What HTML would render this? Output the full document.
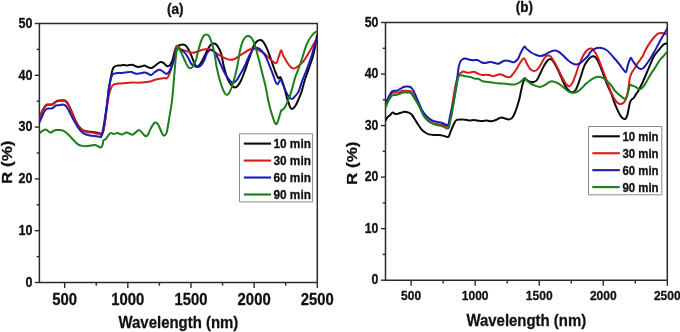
<!DOCTYPE html>
<html><head><meta charset="utf-8"><title>Reflectance spectra</title>
<style>html,body{margin:0;padding:0;background:#fff;width:680px;height:332px;overflow:hidden}
svg{display:block;font-family:"Liberation Sans",sans-serif;filter:blur(0.35px)}</style></head>
<body>
<svg width="680" height="332" viewBox="0 0 680 332">
<defs>
<clipPath id="ca"><rect x="39.4" y="23.5" width="277.9" height="259"/></clipPath>
<clipPath id="cb"><rect x="385.5" y="22.5" width="281.8" height="257.7"/></clipPath>
</defs>
<rect width="680" height="332" fill="#fff"/>
<g font-family="'Liberation Sans', sans-serif" font-weight="bold" fill="#111" stroke="#111" stroke-width="0.3" stroke-linejoin="round">
<rect x="39.40" y="23.50" width="277.90" height="259.00" fill="none" stroke="#2a2a2a" stroke-width="1.50"/>
<line x1="64.66" y1="282.50" x2="64.66" y2="288.00" stroke="#2a2a2a" stroke-width="1.40"/>
<text transform="translate(64.66 304.90) scale(0.885 1)" font-size="16.80" text-anchor="middle">500</text>
<line x1="96.24" y1="282.50" x2="96.24" y2="285.70" stroke="#2a2a2a" stroke-width="1.40"/>
<line x1="127.82" y1="282.50" x2="127.82" y2="288.00" stroke="#2a2a2a" stroke-width="1.40"/>
<text transform="translate(127.82 304.90) scale(0.885 1)" font-size="16.80" text-anchor="middle">1000</text>
<line x1="159.40" y1="282.50" x2="159.40" y2="285.70" stroke="#2a2a2a" stroke-width="1.40"/>
<line x1="190.98" y1="282.50" x2="190.98" y2="288.00" stroke="#2a2a2a" stroke-width="1.40"/>
<text transform="translate(190.98 304.90) scale(0.885 1)" font-size="16.80" text-anchor="middle">1500</text>
<line x1="222.56" y1="282.50" x2="222.56" y2="285.70" stroke="#2a2a2a" stroke-width="1.40"/>
<line x1="254.14" y1="282.50" x2="254.14" y2="288.00" stroke="#2a2a2a" stroke-width="1.40"/>
<text transform="translate(254.14 304.90) scale(0.885 1)" font-size="16.80" text-anchor="middle">2000</text>
<line x1="285.72" y1="282.50" x2="285.72" y2="285.70" stroke="#2a2a2a" stroke-width="1.40"/>
<line x1="317.30" y1="282.50" x2="317.30" y2="288.00" stroke="#2a2a2a" stroke-width="1.40"/>
<text transform="translate(317.30 304.90) scale(0.885 1)" font-size="16.80" text-anchor="middle">2500</text>
<line x1="34.80" y1="282.50" x2="39.40" y2="282.50" stroke="#2a2a2a" stroke-width="1.40"/>
<text transform="translate(32.50 286.80) scale(0.885 1)" font-size="14.20" text-anchor="end">0</text>
<line x1="36.60" y1="256.60" x2="39.40" y2="256.60" stroke="#2a2a2a" stroke-width="1.40"/>
<line x1="34.80" y1="230.70" x2="39.40" y2="230.70" stroke="#2a2a2a" stroke-width="1.40"/>
<text transform="translate(32.50 235.00) scale(0.885 1)" font-size="14.20" text-anchor="end">10</text>
<line x1="36.60" y1="204.80" x2="39.40" y2="204.80" stroke="#2a2a2a" stroke-width="1.40"/>
<line x1="34.80" y1="178.90" x2="39.40" y2="178.90" stroke="#2a2a2a" stroke-width="1.40"/>
<text transform="translate(32.50 183.20) scale(0.885 1)" font-size="14.20" text-anchor="end">20</text>
<line x1="36.60" y1="153.00" x2="39.40" y2="153.00" stroke="#2a2a2a" stroke-width="1.40"/>
<line x1="34.80" y1="127.10" x2="39.40" y2="127.10" stroke="#2a2a2a" stroke-width="1.40"/>
<text transform="translate(32.50 131.40) scale(0.885 1)" font-size="14.20" text-anchor="end">30</text>
<line x1="36.60" y1="101.20" x2="39.40" y2="101.20" stroke="#2a2a2a" stroke-width="1.40"/>
<line x1="34.80" y1="75.30" x2="39.40" y2="75.30" stroke="#2a2a2a" stroke-width="1.40"/>
<text transform="translate(32.50 79.60) scale(0.885 1)" font-size="14.20" text-anchor="end">40</text>
<line x1="36.60" y1="49.40" x2="39.40" y2="49.40" stroke="#2a2a2a" stroke-width="1.40"/>
<line x1="34.80" y1="23.50" x2="39.40" y2="23.50" stroke="#2a2a2a" stroke-width="1.40"/>
<text transform="translate(32.50 27.80) scale(0.885 1)" font-size="14.20" text-anchor="end">50</text>
<g clip-path="url(#ca)">
<path d="M39.40 118.00 C39.52 117.78 39.62 117.88 40.10 116.70 C40.58 115.52 41.48 112.63 42.30 110.90 C43.12 109.17 44.17 107.37 45.00 106.30 C45.83 105.23 46.38 104.80 47.30 104.50 C48.22 104.20 49.60 104.57 50.50 104.50 C51.40 104.43 51.95 104.47 52.70 104.10 C53.45 103.73 54.25 102.83 55.00 102.30 C55.75 101.77 56.38 101.20 57.20 100.90 C58.02 100.60 59.02 100.62 59.90 100.50 C60.78 100.38 61.68 100.20 62.50 100.20 C63.32 100.20 64.10 100.20 64.80 100.50 C65.50 100.80 66.07 101.25 66.70 102.00 C67.33 102.75 67.92 103.73 68.60 105.00 C69.28 106.27 70.05 107.97 70.80 109.60 C71.55 111.23 72.47 113.30 73.10 114.80 C73.73 116.30 74.12 117.48 74.60 118.60 C75.08 119.72 75.43 120.38 76.00 121.50 C76.57 122.62 77.17 124.08 78.00 125.30 C78.83 126.52 80.00 127.92 81.00 128.80 C82.00 129.68 82.83 130.13 84.00 130.60 C85.17 131.07 86.67 131.37 88.00 131.60 C89.33 131.83 90.67 131.85 92.00 132.00 C93.33 132.15 94.83 132.30 96.00 132.50 C97.17 132.70 98.17 133.02 99.00 133.20 C99.83 133.38 100.33 133.80 101.00 133.60 C101.67 133.40 102.33 134.10 103.00 132.00 C103.67 129.90 104.33 125.50 105.00 121.00 C105.67 116.50 106.40 110.17 107.00 105.00 C107.60 99.83 108.00 94.33 108.60 90.00 C109.20 85.67 109.98 82.25 110.60 79.00 C111.22 75.75 111.73 72.50 112.30 70.50 C112.87 68.50 113.23 67.82 114.00 67.00 C114.77 66.18 115.90 65.83 116.90 65.60 C117.90 65.37 118.86 65.70 120.00 65.60 C121.14 65.50 122.50 65.03 123.75 65.00 C125.00 64.97 126.14 65.44 127.50 65.40 C128.86 65.36 130.65 64.65 131.90 64.75 C133.15 64.85 133.97 65.64 135.00 66.00 C136.03 66.36 137.06 66.82 138.10 66.90 C139.14 66.98 140.20 66.72 141.25 66.50 C142.30 66.28 143.36 65.53 144.40 65.60 C145.44 65.67 146.36 66.48 147.50 66.90 C148.64 67.32 150.10 68.21 151.25 68.10 C152.40 67.99 153.36 66.97 154.40 66.25 C155.44 65.53 156.47 64.47 157.50 63.75 C158.53 63.02 159.56 62.01 160.60 61.90 C161.64 61.79 162.81 62.48 163.75 63.10 C164.69 63.72 165.53 65.07 166.25 65.60 C166.97 66.12 167.47 66.35 168.10 66.25 C168.72 66.15 169.27 66.04 170.00 65.00 C170.73 63.96 171.75 62.17 172.50 60.00 C173.25 57.83 173.92 54.08 174.50 52.00 C175.08 49.92 175.42 48.53 176.00 47.50 C176.58 46.47 177.33 46.22 178.00 45.80 C178.67 45.38 179.15 45.23 180.00 45.00 C180.85 44.77 182.17 44.30 183.10 44.40 C184.03 44.50 184.77 44.88 185.60 45.60 C186.43 46.33 187.27 47.39 188.10 48.75 C188.93 50.11 189.77 51.88 190.60 53.75 C191.43 55.62 192.27 58.04 193.10 60.00 C193.93 61.96 194.87 64.42 195.60 65.50 C196.33 66.58 196.85 66.58 197.50 66.50 C198.15 66.42 198.75 65.92 199.50 65.00 C200.25 64.08 201.08 62.67 202.00 61.00 C202.92 59.33 204.08 56.83 205.00 55.00 C205.92 53.17 206.57 51.67 207.50 50.00 C208.43 48.33 209.56 46.08 210.60 45.00 C211.64 43.92 212.81 43.60 213.75 43.50 C214.69 43.40 215.42 43.63 216.25 44.40 C217.08 45.17 217.92 46.50 218.75 48.10 C219.58 49.70 220.42 51.02 221.25 54.00 C222.08 56.98 222.71 61.88 223.75 66.00 C224.79 70.12 226.25 75.58 227.50 78.75 C228.75 81.92 230.00 83.54 231.25 85.00 C232.50 86.46 233.86 87.45 235.00 87.50 C236.14 87.55 237.06 86.55 238.10 85.30 C239.14 84.05 240.10 82.47 241.25 80.00 C242.40 77.53 243.86 73.62 245.00 70.50 C246.14 67.38 247.17 63.92 248.10 61.25 C249.03 58.58 249.77 56.88 250.60 54.50 C251.43 52.12 252.16 49.08 253.10 47.00 C254.04 44.92 255.33 43.10 256.25 42.00 C257.17 40.90 257.98 40.73 258.60 40.40 C259.23 40.07 259.40 39.93 260.00 40.00 C260.60 40.07 261.38 40.05 262.20 40.80 C263.02 41.55 263.98 42.90 264.90 44.50 C265.82 46.10 266.78 48.22 267.70 50.40 C268.62 52.58 269.50 55.05 270.40 57.60 C271.30 60.15 272.20 63.13 273.10 65.70 C274.00 68.27 274.90 70.88 275.80 73.00 C276.70 75.12 277.75 77.73 278.50 78.40 C279.25 79.07 279.70 76.55 280.30 77.00 C280.90 77.45 281.35 79.07 282.10 81.10 C282.85 83.13 284.00 86.38 284.80 89.20 C285.60 92.02 286.27 95.78 286.90 98.00 C287.53 100.22 288.08 101.02 288.60 102.50 C289.12 103.98 289.35 105.83 290.00 106.90 C290.65 107.97 291.57 109.12 292.50 108.90 C293.43 108.68 294.56 107.29 295.60 105.60 C296.64 103.91 297.77 101.02 298.75 98.75 C299.73 96.48 300.49 95.12 301.50 92.00 C302.51 88.88 303.75 83.40 304.80 80.00 C305.85 76.60 306.87 74.27 307.80 71.60 C308.73 68.93 309.58 66.38 310.40 64.00 C311.22 61.62 312.00 59.80 312.70 57.30 C313.40 54.80 314.03 51.80 314.60 49.00 C315.17 46.20 315.70 42.75 316.10 40.50 C316.50 38.25 316.85 36.33 317.00 35.50" fill="none" stroke="#0a0a0a" stroke-width="2.00" stroke-linejoin="round" stroke-linecap="round"/>
<path d="M39.40 118.50 C39.52 118.28 39.62 118.38 40.10 117.20 C40.58 116.02 41.48 113.13 42.30 111.40 C43.12 109.67 44.17 107.87 45.00 106.80 C45.83 105.73 46.38 105.30 47.30 105.00 C48.22 104.70 49.60 105.07 50.50 105.00 C51.40 104.93 51.95 104.97 52.70 104.60 C53.45 104.23 54.25 103.33 55.00 102.80 C55.75 102.27 56.38 101.70 57.20 101.40 C58.02 101.10 59.02 101.12 59.90 101.00 C60.78 100.88 61.68 100.70 62.50 100.70 C63.32 100.70 64.10 100.70 64.80 101.00 C65.50 101.30 66.07 101.75 66.70 102.50 C67.33 103.25 67.92 104.23 68.60 105.50 C69.28 106.77 70.05 108.47 70.80 110.10 C71.55 111.73 72.47 113.80 73.10 115.30 C73.73 116.80 74.12 117.98 74.60 119.10 C75.08 120.22 75.43 120.85 76.00 122.00 C76.57 123.15 77.17 124.73 78.00 126.00 C78.83 127.27 80.00 128.72 81.00 129.60 C82.00 130.48 82.83 130.87 84.00 131.30 C85.17 131.73 86.67 131.98 88.00 132.20 C89.33 132.42 90.67 132.40 92.00 132.60 C93.33 132.80 94.67 133.12 96.00 133.40 C97.33 133.68 99.00 134.10 100.00 134.30 C101.00 134.50 101.33 135.65 102.00 134.60 C102.67 133.55 103.30 131.60 104.00 128.00 C104.70 124.40 105.50 117.83 106.20 113.00 C106.90 108.17 107.65 102.42 108.20 99.00 C108.75 95.58 108.98 94.42 109.50 92.50 C110.02 90.58 110.72 88.77 111.30 87.50 C111.88 86.23 112.30 85.48 113.00 84.90 C113.70 84.32 114.33 84.23 115.50 84.00 C116.67 83.77 118.21 83.65 120.00 83.50 C121.79 83.35 124.17 83.27 126.25 83.10 C128.33 82.93 130.42 82.56 132.50 82.50 C134.58 82.44 136.67 82.79 138.75 82.75 C140.83 82.71 142.92 82.50 145.00 82.25 C147.08 82.00 149.58 81.67 151.25 81.25 C152.92 80.83 153.54 80.17 155.00 79.75 C156.46 79.33 158.33 79.03 160.00 78.75 C161.67 78.47 163.92 78.14 165.00 78.10 C166.08 78.06 165.88 78.92 166.50 78.50 C167.12 78.08 167.96 77.22 168.75 75.60 C169.54 73.97 170.31 71.56 171.25 68.75 C172.19 65.94 173.57 62.38 174.40 58.75 C175.23 55.12 175.73 49.04 176.25 47.00 C176.77 44.96 176.67 46.10 177.50 46.50 C178.33 46.90 179.68 48.61 181.25 49.40 C182.82 50.19 185.03 50.69 186.90 51.25 C188.78 51.81 190.73 52.71 192.50 52.75 C194.27 52.79 195.83 52.00 197.50 51.50 C199.17 51.00 200.83 50.17 202.50 49.75 C204.17 49.33 206.04 48.96 207.50 49.00 C208.96 49.04 210.00 49.46 211.25 50.00 C212.50 50.54 213.54 51.32 215.00 52.25 C216.46 53.18 218.33 54.62 220.00 55.60 C221.67 56.58 223.33 57.41 225.00 58.10 C226.67 58.79 228.43 59.60 230.00 59.75 C231.57 59.90 232.94 59.58 234.40 59.00 C235.86 58.42 237.19 57.23 238.75 56.25 C240.31 55.27 242.08 54.14 243.75 53.10 C245.42 52.06 247.08 50.83 248.75 50.00 C250.42 49.17 252.39 48.20 253.75 48.10 C255.11 48.00 255.49 48.72 256.90 49.40 C258.31 50.08 260.55 51.13 262.20 52.20 C263.85 53.27 265.28 54.45 266.80 55.80 C268.32 57.15 269.95 59.10 271.30 60.30 C272.65 61.50 273.97 62.63 274.90 63.00 C275.83 63.37 276.37 63.25 276.90 62.50 C277.43 61.75 277.68 59.77 278.10 58.50 C278.52 57.23 278.88 56.28 279.40 54.90 C279.92 53.52 280.60 50.20 281.20 50.20 C281.80 50.20 282.40 53.55 283.00 54.90 C283.60 56.25 284.05 56.95 284.80 58.30 C285.55 59.65 286.43 61.47 287.50 63.00 C288.57 64.53 290.13 66.58 291.20 67.50 C292.27 68.42 293.13 68.45 293.90 68.50 C294.67 68.55 295.12 68.17 295.80 67.80 C296.48 67.43 297.13 66.98 298.00 66.30 C298.87 65.62 300.00 64.65 301.00 63.70 C302.00 62.75 302.97 61.97 304.00 60.60 C305.03 59.23 306.18 57.18 307.20 55.50 C308.22 53.82 309.07 52.32 310.10 50.50 C311.13 48.68 312.40 46.38 313.40 44.60 C314.40 42.82 315.50 40.82 316.10 39.80 C316.70 38.78 316.85 38.72 317.00 38.50" fill="none" stroke="#d81c1c" stroke-width="2.00" stroke-linejoin="round" stroke-linecap="round"/>
<path d="M39.60 122.20 C40.05 121.15 41.40 117.85 42.30 115.90 C43.20 113.95 44.17 111.72 45.00 110.50 C45.83 109.28 46.32 108.92 47.30 108.60 C48.28 108.28 49.92 108.75 50.90 108.60 C51.88 108.45 52.37 108.22 53.20 107.70 C54.03 107.18 54.97 105.92 55.90 105.50 C56.83 105.08 57.70 105.35 58.80 105.20 C59.90 105.05 61.50 104.60 62.50 104.60 C63.50 104.60 64.10 104.78 64.80 105.20 C65.50 105.62 66.07 106.28 66.70 107.10 C67.33 107.92 67.92 108.85 68.60 110.10 C69.28 111.35 70.05 113.10 70.80 114.60 C71.55 116.10 72.40 117.78 73.10 119.10 C73.80 120.42 74.18 121.10 75.00 122.50 C75.82 123.90 77.00 126.05 78.00 127.50 C79.00 128.95 80.00 130.18 81.00 131.20 C82.00 132.22 82.83 132.97 84.00 133.60 C85.17 134.23 86.67 134.63 88.00 135.00 C89.33 135.37 90.67 135.60 92.00 135.80 C93.33 136.00 94.67 136.03 96.00 136.20 C97.33 136.37 99.08 136.80 100.00 136.80 C100.92 136.80 100.95 137.67 101.50 136.20 C102.05 134.73 102.55 132.20 103.30 128.00 C104.05 123.80 105.18 116.50 106.00 111.00 C106.82 105.50 107.67 99.00 108.20 95.00 C108.73 91.00 108.80 89.58 109.20 87.00 C109.60 84.42 110.08 81.50 110.60 79.50 C111.12 77.50 111.73 75.98 112.30 75.00 C112.87 74.02 113.23 73.92 114.00 73.60 C114.77 73.28 115.69 73.22 116.90 73.10 C118.11 72.98 119.90 73.00 121.25 72.90 C122.60 72.80 123.33 72.67 125.00 72.50 C126.67 72.33 129.58 71.73 131.25 71.90 C132.92 72.07 133.86 73.19 135.00 73.50 C136.14 73.81 136.95 73.85 138.10 73.75 C139.25 73.65 140.75 73.11 141.90 72.90 C143.05 72.69 143.97 72.36 145.00 72.50 C146.03 72.64 147.06 73.33 148.10 73.75 C149.14 74.17 150.10 75.31 151.25 75.00 C152.40 74.69 153.64 72.78 155.00 71.90 C156.36 71.03 158.15 69.86 159.40 69.75 C160.65 69.64 161.47 70.62 162.50 71.25 C163.53 71.88 164.85 73.08 165.60 73.50 C166.35 73.92 166.37 74.12 167.00 73.75 C167.63 73.38 168.48 72.96 169.40 71.25 C170.32 69.54 171.57 66.04 172.50 63.50 C173.43 60.96 174.17 58.57 175.00 56.00 C175.83 53.43 176.67 49.10 177.50 48.10 C178.33 47.10 179.17 49.58 180.00 50.00 C180.83 50.42 181.57 49.98 182.50 50.60 C183.43 51.23 184.56 52.39 185.60 53.75 C186.64 55.11 187.81 57.08 188.75 58.75 C189.69 60.42 190.21 62.50 191.25 63.75 C192.29 65.00 193.86 65.72 195.00 66.25 C196.14 66.78 197.06 67.11 198.10 66.90 C199.14 66.69 200.20 66.15 201.25 65.00 C202.30 63.85 203.51 61.83 204.40 60.00 C205.29 58.17 205.67 55.67 206.60 54.00 C207.53 52.33 209.02 50.67 210.00 50.00 C210.98 49.33 211.67 49.58 212.50 50.00 C213.33 50.42 213.96 50.83 215.00 52.50 C216.04 54.17 217.29 56.88 218.75 60.00 C220.21 63.12 222.29 68.33 223.75 71.25 C225.21 74.17 226.25 75.72 227.50 77.50 C228.75 79.28 230.21 81.07 231.25 81.90 C232.29 82.73 232.81 82.82 233.75 82.50 C234.69 82.18 235.65 81.67 236.90 80.00 C238.15 78.33 239.90 74.92 241.25 72.50 C242.60 70.08 243.96 67.67 245.00 65.50 C246.04 63.33 246.67 61.37 247.50 59.50 C248.33 57.63 249.07 55.98 250.00 54.30 C250.93 52.62 252.06 50.50 253.10 49.40 C254.14 48.30 255.33 47.87 256.25 47.70 C257.17 47.53 257.61 47.80 258.60 48.40 C259.59 49.00 261.00 49.92 262.20 51.30 C263.40 52.68 264.58 54.30 265.80 56.70 C267.02 59.10 268.28 62.68 269.50 65.70 C270.72 68.72 272.05 72.02 273.10 74.80 C274.15 77.58 275.05 80.83 275.80 82.40 C276.55 83.97 277.00 84.42 277.60 84.20 C278.20 83.98 278.80 81.77 279.40 81.10 C280.00 80.43 280.60 79.60 281.20 80.20 C281.80 80.80 282.25 82.88 283.00 84.70 C283.75 86.52 284.77 89.17 285.70 91.10 C286.63 93.03 287.57 94.98 288.60 96.30 C289.63 97.62 290.83 99.01 291.90 99.00 C292.97 98.99 293.97 97.33 295.00 96.25 C296.03 95.17 297.27 93.96 298.10 92.50 C298.93 91.04 299.27 89.58 300.00 87.50 C300.73 85.42 301.52 82.65 302.50 80.00 C303.48 77.35 304.77 74.52 305.90 71.60 C307.03 68.68 308.30 65.27 309.30 62.50 C310.30 59.73 311.22 57.15 311.90 55.00 C312.58 52.85 312.77 51.63 313.40 49.60 C314.03 47.57 315.10 44.65 315.70 42.80 C316.30 40.95 316.78 39.22 317.00 38.50" fill="none" stroke="#1a1ab4" stroke-width="2.00" stroke-linejoin="round" stroke-linecap="round"/>
<path d="M39.50 133.10 C39.75 132.90 40.42 132.32 41.00 131.90 C41.58 131.48 42.25 131.02 43.00 130.60 C43.75 130.18 44.83 129.50 45.50 129.40 C46.17 129.30 46.42 129.58 47.00 130.00 C47.58 130.42 48.33 131.48 49.00 131.90 C49.67 132.32 50.33 132.61 51.00 132.50 C51.67 132.39 52.17 131.67 53.00 131.25 C53.83 130.83 54.83 130.21 56.00 130.00 C57.17 129.79 58.83 129.90 60.00 130.00 C61.17 130.10 62.00 130.18 63.00 130.60 C64.00 131.02 64.83 131.56 66.00 132.50 C67.17 133.44 68.67 134.90 70.00 136.25 C71.33 137.60 72.67 139.24 74.00 140.60 C75.33 141.96 76.83 143.57 78.00 144.40 C79.17 145.23 79.67 145.29 81.00 145.60 C82.33 145.91 84.33 146.25 86.00 146.25 C87.67 146.25 89.50 145.81 91.00 145.60 C92.50 145.39 93.83 144.89 95.00 145.00 C96.17 145.11 97.00 145.83 98.00 146.25 C99.00 146.67 100.25 147.71 101.00 147.50 C101.75 147.29 102.08 146.15 102.50 145.00 C102.92 143.85 102.92 141.64 103.50 140.60 C104.08 139.56 105.08 139.78 106.00 138.75 C106.92 137.72 108.17 135.36 109.00 134.40 C109.83 133.44 110.21 133.07 111.00 133.00 C111.79 132.93 112.67 133.98 113.75 134.00 C114.83 134.02 116.14 133.03 117.50 133.10 C118.86 133.17 120.44 134.50 121.90 134.40 C123.36 134.30 125.00 132.65 126.25 132.50 C127.50 132.35 128.36 133.12 129.40 133.50 C130.44 133.88 131.47 134.92 132.50 134.75 C133.53 134.58 134.56 133.29 135.60 132.50 C136.64 131.71 137.70 130.00 138.75 130.00 C139.80 130.00 140.76 131.46 141.90 132.50 C143.04 133.54 144.57 135.93 145.60 136.25 C146.63 136.57 147.16 135.86 148.10 134.40 C149.04 132.94 150.10 129.48 151.25 127.50 C152.40 125.52 153.86 123.02 155.00 122.50 C156.14 121.98 157.17 123.15 158.10 124.40 C159.03 125.65 159.70 128.17 160.60 130.00 C161.50 131.83 162.52 134.90 163.50 135.40 C164.48 135.90 165.65 135.23 166.50 133.00 C167.35 130.77 167.92 125.83 168.60 122.00 C169.28 118.17 170.03 113.50 170.60 110.00 C171.17 106.50 171.57 104.67 172.00 101.00 C172.43 97.33 172.75 93.17 173.20 88.00 C173.65 82.83 174.22 75.50 174.70 70.00 C175.18 64.50 175.65 58.73 176.10 55.00 C176.55 51.27 176.98 48.90 177.40 47.60 C177.82 46.30 178.15 46.80 178.60 47.20 C179.05 47.60 179.45 48.62 180.10 50.00 C180.75 51.38 181.68 53.67 182.50 55.50 C183.32 57.33 184.08 59.12 185.00 61.00 C185.92 62.88 187.17 65.58 188.00 66.80 C188.83 68.02 189.25 68.27 190.00 68.30 C190.75 68.33 191.57 68.17 192.50 67.00 C193.43 65.83 194.67 63.88 195.60 61.25 C196.53 58.62 197.16 54.69 198.10 51.25 C199.04 47.81 200.31 43.21 201.25 40.60 C202.19 37.99 202.92 36.63 203.75 35.60 C204.58 34.57 205.42 34.40 206.25 34.40 C207.08 34.40 207.92 34.46 208.75 35.60 C209.58 36.74 210.53 39.27 211.25 41.25 C211.97 43.23 212.47 45.04 213.10 47.50 C213.72 49.96 214.47 53.08 215.00 56.00 C215.53 58.92 215.62 61.62 216.25 65.00 C216.88 68.38 217.92 72.92 218.75 76.25 C219.58 79.58 220.31 82.29 221.25 85.00 C222.19 87.71 223.46 90.83 224.40 92.50 C225.34 94.17 226.07 95.00 226.90 95.00 C227.73 95.00 228.47 94.17 229.40 92.50 C230.33 90.83 231.47 88.12 232.50 85.00 C233.53 81.88 234.77 77.08 235.60 73.75 C236.43 70.42 236.97 67.62 237.50 65.00 C238.03 62.38 238.33 60.42 238.75 58.00 C239.17 55.58 239.38 53.18 240.00 50.50 C240.62 47.82 241.57 44.17 242.50 41.90 C243.43 39.63 244.67 37.88 245.60 36.90 C246.53 35.92 247.27 36.00 248.10 36.00 C248.93 36.00 249.77 36.13 250.60 36.90 C251.43 37.67 252.27 38.75 253.10 40.60 C253.93 42.45 254.68 45.02 255.60 48.00 C256.52 50.98 257.50 54.33 258.60 58.50 C259.70 62.67 261.00 68.18 262.20 73.00 C263.40 77.82 264.82 82.90 265.80 87.40 C266.78 91.90 267.30 96.23 268.10 100.00 C268.90 103.77 269.77 106.98 270.60 110.00 C271.43 113.02 272.27 115.81 273.10 118.10 C273.93 120.39 274.87 123.02 275.60 123.75 C276.33 124.48 276.87 123.75 277.50 122.50 C278.13 121.25 278.77 118.23 279.40 116.25 C280.02 114.27 280.63 111.74 281.25 110.60 C281.87 109.46 282.48 110.02 283.10 109.40 C283.73 108.78 284.27 108.15 285.00 106.90 C285.73 105.65 286.67 103.78 287.50 101.90 C288.33 100.02 289.25 97.75 290.00 95.60 C290.75 93.45 291.38 91.18 292.00 89.00 C292.62 86.82 293.17 84.58 293.75 82.50 C294.33 80.42 294.79 78.58 295.50 76.50 C296.21 74.42 297.20 72.08 298.00 70.00 C298.80 67.92 299.55 66.12 300.30 64.00 C301.05 61.88 301.63 60.08 302.50 57.30 C303.37 54.52 304.48 50.10 305.50 47.30 C306.52 44.50 307.58 42.38 308.60 40.50 C309.62 38.62 310.67 37.25 311.60 36.00 C312.53 34.75 313.30 33.78 314.20 33.00 C315.10 32.22 316.53 31.58 317.00 31.30" fill="none" stroke="#1a7e1a" stroke-width="2.00" stroke-linejoin="round" stroke-linecap="round"/>
</g>
<rect x="239.50" y="133.80" width="73.10" height="68.10" fill="#fff" stroke="#8a8a8a" stroke-width="1"/>
<line x1="243.80" y1="143.60" x2="271.10" y2="143.60" stroke="#0a0a0a" stroke-width="2.1"/>
<text transform="translate(273.40 148.40) scale(0.885 1)" font-size="13.40" text-anchor="start">10 min</text>
<line x1="243.80" y1="160.57" x2="271.10" y2="160.57" stroke="#d81c1c" stroke-width="2.1"/>
<text transform="translate(273.40 165.37) scale(0.885 1)" font-size="13.40" text-anchor="start">30 min</text>
<line x1="243.80" y1="177.54" x2="271.10" y2="177.54" stroke="#1a1ab4" stroke-width="2.1"/>
<text transform="translate(273.40 182.34) scale(0.885 1)" font-size="13.40" text-anchor="start">60 min</text>
<line x1="243.80" y1="194.51" x2="271.10" y2="194.51" stroke="#1a7e1a" stroke-width="2.1"/>
<text transform="translate(273.40 199.31) scale(0.885 1)" font-size="13.40" text-anchor="start">90 min</text>
<text transform="translate(175.20 13.60) scale(0.930 1)" font-size="14.60" text-anchor="middle">(a)</text>
<text transform="translate(178.40 327.70) scale(0.885 1)" font-size="16.90" text-anchor="middle">Wavelength (nm)</text>
<text transform="translate(11.8 162.2) scale(0.885 1) rotate(-90)" font-size="17" text-anchor="middle">R (%)</text>
<rect x="385.50" y="22.50" width="281.80" height="257.70" fill="none" stroke="#2a2a2a" stroke-width="1.50"/>
<line x1="411.12" y1="280.20" x2="411.12" y2="285.70" stroke="#2a2a2a" stroke-width="1.40"/>
<text transform="translate(411.12 299.80) scale(0.885 1)" font-size="13.60" text-anchor="middle">500</text>
<line x1="443.14" y1="280.20" x2="443.14" y2="283.40" stroke="#2a2a2a" stroke-width="1.40"/>
<line x1="475.16" y1="280.20" x2="475.16" y2="285.70" stroke="#2a2a2a" stroke-width="1.40"/>
<text transform="translate(475.16 299.80) scale(0.885 1)" font-size="13.60" text-anchor="middle">1000</text>
<line x1="507.19" y1="280.20" x2="507.19" y2="283.40" stroke="#2a2a2a" stroke-width="1.40"/>
<line x1="539.21" y1="280.20" x2="539.21" y2="285.70" stroke="#2a2a2a" stroke-width="1.40"/>
<text transform="translate(539.21 299.80) scale(0.885 1)" font-size="13.60" text-anchor="middle">1500</text>
<line x1="571.23" y1="280.20" x2="571.23" y2="283.40" stroke="#2a2a2a" stroke-width="1.40"/>
<line x1="603.25" y1="280.20" x2="603.25" y2="285.70" stroke="#2a2a2a" stroke-width="1.40"/>
<text transform="translate(603.25 299.80) scale(0.885 1)" font-size="13.60" text-anchor="middle">2000</text>
<line x1="635.28" y1="280.20" x2="635.28" y2="283.40" stroke="#2a2a2a" stroke-width="1.40"/>
<line x1="667.30" y1="280.20" x2="667.30" y2="285.70" stroke="#2a2a2a" stroke-width="1.40"/>
<text transform="translate(667.30 299.80) scale(0.885 1)" font-size="13.60" text-anchor="middle">2500</text>
<line x1="380.90" y1="280.20" x2="385.50" y2="280.20" stroke="#2a2a2a" stroke-width="1.40"/>
<text transform="translate(378.40 284.30) scale(0.885 1)" font-size="13.90" text-anchor="end">0</text>
<line x1="382.70" y1="254.43" x2="385.50" y2="254.43" stroke="#2a2a2a" stroke-width="1.40"/>
<line x1="380.90" y1="228.66" x2="385.50" y2="228.66" stroke="#2a2a2a" stroke-width="1.40"/>
<text transform="translate(378.40 232.76) scale(0.885 1)" font-size="13.90" text-anchor="end">10</text>
<line x1="382.70" y1="202.89" x2="385.50" y2="202.89" stroke="#2a2a2a" stroke-width="1.40"/>
<line x1="380.90" y1="177.12" x2="385.50" y2="177.12" stroke="#2a2a2a" stroke-width="1.40"/>
<text transform="translate(378.40 181.22) scale(0.885 1)" font-size="13.90" text-anchor="end">20</text>
<line x1="382.70" y1="151.35" x2="385.50" y2="151.35" stroke="#2a2a2a" stroke-width="1.40"/>
<line x1="380.90" y1="125.58" x2="385.50" y2="125.58" stroke="#2a2a2a" stroke-width="1.40"/>
<text transform="translate(378.40 129.68) scale(0.885 1)" font-size="13.90" text-anchor="end">30</text>
<line x1="382.70" y1="99.81" x2="385.50" y2="99.81" stroke="#2a2a2a" stroke-width="1.40"/>
<line x1="380.90" y1="74.04" x2="385.50" y2="74.04" stroke="#2a2a2a" stroke-width="1.40"/>
<text transform="translate(378.40 78.14) scale(0.885 1)" font-size="13.90" text-anchor="end">40</text>
<line x1="382.70" y1="48.27" x2="385.50" y2="48.27" stroke="#2a2a2a" stroke-width="1.40"/>
<line x1="380.90" y1="22.50" x2="385.50" y2="22.50" stroke="#2a2a2a" stroke-width="1.40"/>
<text transform="translate(378.40 26.60) scale(0.885 1)" font-size="13.90" text-anchor="end">50</text>
<g clip-path="url(#cb)">
<path d="M385.90 120.00 C386.21 119.48 387.02 117.73 387.75 116.90 C388.48 116.07 389.42 115.73 390.25 115.00 C391.08 114.27 391.92 112.67 392.75 112.50 C393.58 112.33 394.42 113.78 395.25 114.00 C396.08 114.22 396.92 113.97 397.75 113.80 C398.58 113.63 399.31 113.32 400.25 113.00 C401.19 112.68 402.36 112.08 403.40 111.90 C404.44 111.72 405.47 111.72 406.50 111.90 C407.53 112.08 408.67 112.48 409.60 113.00 C410.53 113.52 411.16 113.83 412.10 115.00 C413.04 116.17 414.20 118.33 415.25 120.00 C416.30 121.67 417.36 123.43 418.40 125.00 C419.44 126.57 420.36 128.15 421.50 129.40 C422.64 130.65 424.00 131.67 425.25 132.50 C426.50 133.33 427.54 133.98 429.00 134.40 C430.46 134.82 432.33 134.90 434.00 135.00 C435.67 135.10 437.54 134.90 439.00 135.00 C440.46 135.10 441.60 135.33 442.75 135.60 C443.90 135.87 444.96 136.38 445.90 136.60 C446.84 136.82 447.78 137.27 448.40 136.90 C449.02 136.53 449.08 135.65 449.60 134.40 C450.12 133.15 450.77 131.18 451.50 129.40 C452.23 127.62 453.17 125.32 454.00 123.75 C454.83 122.18 455.29 120.72 456.50 120.00 C457.71 119.28 459.83 119.44 461.25 119.40 C462.67 119.36 463.64 119.58 465.00 119.75 C466.36 119.92 467.83 120.36 469.40 120.40 C470.97 120.44 472.84 119.93 474.40 120.00 C475.96 120.07 477.40 120.63 478.75 120.80 C480.10 120.97 481.14 121.03 482.50 121.00 C483.86 120.97 485.44 120.57 486.90 120.60 C488.36 120.63 489.90 121.26 491.25 121.20 C492.60 121.14 493.75 120.70 495.00 120.25 C496.25 119.80 497.60 118.96 498.75 118.50 C499.90 118.04 500.86 117.50 501.90 117.50 C502.94 117.50 503.86 118.18 505.00 118.50 C506.14 118.82 507.60 119.47 508.75 119.40 C509.90 119.33 510.96 119.00 511.90 118.10 C512.84 117.20 513.55 115.85 514.40 114.00 C515.25 112.15 516.17 109.54 517.00 107.00 C517.83 104.46 518.69 101.58 519.40 98.75 C520.11 95.92 520.63 92.71 521.25 90.00 C521.87 87.29 522.48 84.38 523.10 82.50 C523.73 80.62 524.27 79.07 525.00 78.75 C525.73 78.43 526.57 80.07 527.50 80.60 C528.43 81.12 529.56 81.68 530.60 81.90 C531.64 82.12 532.70 82.22 533.75 81.90 C534.80 81.58 535.86 81.32 536.90 80.00 C537.94 78.68 538.86 76.29 540.00 74.00 C541.14 71.71 542.50 68.50 543.75 66.25 C545.00 64.00 546.39 61.71 547.50 60.50 C548.61 59.29 549.47 58.90 550.40 59.00 C551.33 59.10 552.20 59.97 553.10 61.10 C554.00 62.23 554.88 64.10 555.80 65.80 C556.72 67.50 557.68 69.37 558.60 71.30 C559.52 73.23 560.40 75.37 561.30 77.40 C562.20 79.43 563.10 81.70 564.00 83.50 C564.90 85.30 565.68 86.85 566.70 88.20 C567.72 89.55 568.97 90.98 570.10 91.60 C571.23 92.22 572.48 92.35 573.50 91.90 C574.52 91.45 575.30 90.53 576.20 88.90 C577.10 87.27 578.00 84.58 578.90 82.10 C579.80 79.62 580.70 76.72 581.60 74.00 C582.50 71.28 583.28 68.07 584.30 65.80 C585.32 63.53 586.57 61.87 587.70 60.40 C588.83 58.93 590.12 57.68 591.10 57.00 C592.08 56.32 592.68 56.03 593.60 56.30 C594.52 56.57 595.60 57.22 596.60 58.60 C597.60 59.98 598.48 61.98 599.60 64.60 C600.72 67.22 602.08 71.08 603.30 74.30 C604.52 77.52 605.85 81.28 606.90 83.90 C607.95 86.52 608.80 88.22 609.60 90.00 C610.40 91.78 610.95 92.62 611.70 94.60 C612.45 96.58 613.20 99.48 614.10 101.90 C615.00 104.32 616.10 106.90 617.10 109.10 C618.10 111.30 619.10 113.53 620.10 115.10 C621.10 116.67 622.20 117.90 623.10 118.50 C624.00 119.10 624.80 119.27 625.50 118.70 C626.20 118.13 626.78 116.70 627.30 115.10 C627.82 113.50 628.18 111.10 628.60 109.10 C629.02 107.10 629.30 104.70 629.80 103.10 C630.30 101.50 631.00 100.30 631.60 99.50 C632.20 98.70 632.70 99.12 633.40 98.30 C634.10 97.48 635.00 95.82 635.80 94.60 C636.60 93.38 637.40 92.35 638.20 91.00 C639.00 89.65 639.80 88.08 640.60 86.50 C641.40 84.92 642.00 83.73 643.00 81.50 C644.00 79.27 645.40 75.92 646.60 73.10 C647.80 70.28 648.98 67.42 650.20 64.60 C651.42 61.78 652.68 58.38 653.90 56.20 C655.12 54.02 656.30 53.02 657.50 51.50 C658.70 49.98 660.00 48.33 661.10 47.10 C662.20 45.87 663.10 44.70 664.10 44.10 C665.10 43.50 666.60 43.60 667.10 43.50" fill="none" stroke="#0a0a0a" stroke-width="2.00" stroke-linejoin="round" stroke-linecap="round"/>
<path d="M385.80 105.00 C386.25 104.00 387.45 100.98 388.50 99.00 C389.55 97.02 390.90 94.17 392.10 93.10 C393.30 92.03 394.48 92.75 395.70 92.60 C396.92 92.45 398.18 92.50 399.40 92.20 C400.62 91.90 401.80 91.05 403.00 90.80 C404.20 90.55 405.48 90.67 406.60 90.70 C407.72 90.73 408.87 90.75 409.70 91.00 C410.53 91.25 411.05 91.62 411.60 92.20 C412.15 92.78 412.33 93.45 413.00 94.50 C413.67 95.55 414.72 96.92 415.60 98.50 C416.48 100.08 417.40 102.08 418.30 104.00 C419.20 105.92 420.05 108.00 421.00 110.00 C421.95 112.00 422.92 114.33 424.00 116.00 C425.08 117.67 426.33 118.95 427.50 120.00 C428.67 121.05 429.92 121.72 431.00 122.30 C432.08 122.88 432.83 123.18 434.00 123.50 C435.17 123.82 436.54 123.95 438.00 124.20 C439.46 124.45 441.33 124.66 442.75 125.00 C444.17 125.34 445.56 126.08 446.50 126.25 C447.44 126.42 447.88 126.88 448.40 126.00 C448.92 125.12 449.17 123.17 449.60 121.00 C450.03 118.83 450.43 116.50 451.00 113.00 C451.57 109.50 452.33 104.17 453.00 100.00 C453.67 95.83 454.33 91.50 455.00 88.00 C455.67 84.50 456.38 81.17 457.00 79.00 C457.62 76.83 458.04 76.08 458.75 75.00 C459.46 73.92 460.42 73.08 461.25 72.50 C462.08 71.92 462.71 71.46 463.75 71.50 C464.79 71.54 466.25 72.62 467.50 72.75 C468.75 72.88 470.10 72.39 471.25 72.25 C472.40 72.11 473.26 71.65 474.40 71.90 C475.54 72.15 476.85 73.23 478.10 73.75 C479.35 74.27 480.65 74.83 481.90 75.00 C483.15 75.17 484.35 74.75 485.60 74.75 C486.85 74.75 488.15 74.75 489.40 75.00 C490.65 75.25 491.85 76.25 493.10 76.25 C494.35 76.25 495.54 75.31 496.90 75.00 C498.26 74.69 499.90 74.19 501.25 74.40 C502.60 74.61 503.75 75.78 505.00 76.25 C506.25 76.72 507.75 77.21 508.75 77.25 C509.75 77.29 510.17 77.21 511.00 76.50 C511.83 75.79 512.88 74.17 513.75 73.00 C514.62 71.83 515.21 71.17 516.25 69.50 C517.29 67.83 518.71 64.87 520.00 63.00 C521.29 61.13 522.85 58.17 524.00 58.30 C525.15 58.42 525.90 62.01 526.90 63.75 C527.90 65.49 528.86 67.54 530.00 68.75 C531.14 69.96 532.50 70.89 533.75 71.00 C535.00 71.11 536.25 70.61 537.50 69.40 C538.75 68.19 540.10 65.63 541.25 63.75 C542.40 61.87 543.36 59.46 544.40 58.10 C545.44 56.74 546.47 55.91 547.50 55.60 C548.53 55.29 549.77 55.67 550.60 56.25 C551.43 56.83 551.63 57.73 552.50 59.10 C553.37 60.48 554.57 62.25 555.80 64.50 C557.03 66.75 558.53 69.90 559.90 72.60 C561.27 75.30 562.75 78.55 564.00 80.70 C565.25 82.85 566.38 84.63 567.40 85.50 C568.42 86.37 569.20 86.47 570.10 85.90 C571.00 85.33 571.90 83.87 572.80 82.10 C573.70 80.33 574.60 77.78 575.50 75.30 C576.40 72.82 577.30 69.68 578.20 67.20 C579.10 64.72 580.00 62.43 580.90 60.40 C581.80 58.37 582.83 56.40 583.60 55.00 C584.37 53.60 584.75 52.93 585.50 52.00 C586.25 51.07 587.14 49.98 588.10 49.40 C589.06 48.82 590.43 48.48 591.25 48.50 C592.07 48.52 592.21 48.63 593.00 49.50 C593.79 50.37 595.10 52.18 596.00 53.70 C596.90 55.22 597.70 56.98 598.40 58.60 C599.10 60.22 599.28 60.98 600.20 63.40 C601.12 65.82 602.68 69.88 603.90 73.10 C605.12 76.32 606.40 79.70 607.50 82.70 C608.60 85.70 609.90 89.52 610.50 91.10 C611.10 92.68 610.50 91.00 611.10 92.20 C611.70 93.40 613.10 96.58 614.10 98.30 C615.10 100.02 616.10 101.55 617.10 102.50 C618.10 103.45 619.10 103.90 620.10 104.00 C621.10 104.10 622.20 103.75 623.10 103.10 C624.00 102.45 624.80 101.52 625.50 100.10 C626.20 98.68 626.78 96.78 627.30 94.60 C627.82 92.42 628.18 89.78 628.60 87.00 C629.02 84.22 629.30 80.22 629.80 77.90 C630.30 75.58 630.80 74.70 631.60 73.10 C632.40 71.50 633.60 69.92 634.60 68.30 C635.60 66.68 636.60 64.92 637.60 63.40 C638.60 61.88 639.70 60.50 640.60 59.20 C641.50 57.90 642.27 56.97 643.00 55.60 C643.73 54.23 644.00 52.92 645.00 51.00 C646.00 49.08 647.52 46.35 649.00 44.10 C650.48 41.85 652.38 39.27 653.90 37.50 C655.42 35.73 656.70 34.25 658.10 33.50 C659.50 32.75 661.10 32.93 662.30 33.00 C663.50 33.07 664.50 33.65 665.30 33.90 C666.10 34.15 666.80 34.40 667.10 34.50" fill="none" stroke="#d81c1c" stroke-width="2.00" stroke-linejoin="round" stroke-linecap="round"/>
<path d="M385.80 103.50 C386.25 102.45 387.52 99.17 388.50 97.20 C389.48 95.23 390.72 92.77 391.70 91.70 C392.68 90.63 393.43 91.02 394.40 90.80 C395.37 90.58 396.52 90.70 397.50 90.40 C398.48 90.10 399.38 89.53 400.30 89.00 C401.22 88.47 401.95 87.62 403.00 87.20 C404.05 86.78 405.48 86.57 406.60 86.50 C407.72 86.43 408.87 86.53 409.70 86.80 C410.53 87.07 410.98 87.43 411.60 88.10 C412.22 88.77 412.73 89.58 413.40 90.80 C414.07 92.02 414.78 93.58 415.60 95.40 C416.42 97.22 417.40 99.60 418.30 101.70 C419.20 103.80 420.26 106.41 421.00 108.00 C421.74 109.59 421.83 109.88 422.75 111.25 C423.67 112.62 425.25 114.89 426.50 116.25 C427.75 117.61 429.00 118.57 430.25 119.40 C431.50 120.23 432.54 120.78 434.00 121.25 C435.46 121.72 437.54 121.94 439.00 122.25 C440.46 122.56 441.60 122.68 442.75 123.10 C443.90 123.52 444.96 124.53 445.90 124.75 C446.84 124.97 447.78 125.40 448.40 124.40 C449.02 123.40 449.18 120.73 449.60 118.75 C450.02 116.77 450.42 114.38 450.90 112.50 C451.38 110.62 451.98 109.58 452.50 107.50 C453.02 105.42 453.32 103.75 454.00 100.00 C454.68 96.25 455.90 90.00 456.60 85.00 C457.30 80.00 457.63 73.75 458.20 70.00 C458.77 66.25 459.33 64.25 460.00 62.50 C460.67 60.75 461.27 60.17 462.20 59.50 C463.13 58.83 464.40 58.46 465.60 58.50 C466.80 58.54 468.15 59.46 469.40 59.75 C470.65 60.04 471.75 60.21 473.10 60.25 C474.45 60.29 476.14 59.67 477.50 60.00 C478.86 60.33 480.00 61.73 481.25 62.25 C482.50 62.77 483.64 63.16 485.00 63.10 C486.36 63.04 488.05 62.00 489.40 61.90 C490.75 61.80 491.75 62.19 493.10 62.50 C494.45 62.81 496.35 63.65 497.50 63.75 C498.65 63.85 499.17 63.48 500.00 63.10 C500.83 62.73 501.46 61.92 502.50 61.50 C503.54 61.08 505.00 60.64 506.25 60.60 C507.50 60.56 508.71 60.97 510.00 61.25 C511.29 61.53 512.85 62.51 514.00 62.30 C515.15 62.09 516.11 60.80 516.90 60.00 C517.69 59.20 518.23 58.43 518.75 57.50 C519.27 56.57 519.38 55.73 520.00 54.40 C520.62 53.07 521.73 50.82 522.50 49.50 C523.27 48.18 523.93 46.60 524.60 46.50 C525.27 46.40 525.81 48.22 526.50 48.90 C527.19 49.58 527.96 50.00 528.75 50.60 C529.54 51.20 530.00 51.77 531.25 52.50 C532.50 53.23 534.69 54.42 536.25 55.00 C537.81 55.58 539.14 56.04 540.60 56.00 C542.06 55.96 543.43 55.43 545.00 54.75 C546.57 54.07 548.33 52.59 550.00 51.90 C551.67 51.21 553.54 50.60 555.00 50.60 C556.46 50.60 557.48 51.17 558.75 51.90 C560.02 52.63 561.16 53.70 562.60 55.00 C564.04 56.30 565.82 58.35 567.40 59.70 C568.98 61.05 570.63 62.30 572.10 63.10 C573.57 63.90 574.85 64.50 576.20 64.50 C577.55 64.50 578.85 63.93 580.20 63.10 C581.55 62.27 582.92 60.77 584.30 59.50 C585.68 58.23 587.55 56.67 588.50 55.50 C589.45 54.33 589.15 53.50 590.00 52.50 C590.85 51.50 592.40 50.25 593.60 49.50 C594.80 48.75 595.90 48.25 597.20 48.00 C598.50 47.75 599.98 47.75 601.40 48.00 C602.82 48.25 604.28 48.65 605.70 49.50 C607.12 50.35 608.50 51.68 609.90 53.10 C611.30 54.52 613.10 56.85 614.10 58.00 C615.10 59.15 614.90 58.80 615.90 60.00 C616.90 61.20 618.80 63.52 620.10 65.20 C621.40 66.88 622.70 68.98 623.70 70.10 C624.70 71.22 625.38 72.82 626.10 71.90 C626.82 70.98 627.25 66.92 628.00 64.60 C628.75 62.28 629.80 58.60 630.60 58.00 C631.40 57.40 631.83 59.70 632.80 61.00 C633.77 62.30 635.20 64.48 636.40 65.80 C637.60 67.12 638.90 68.48 640.00 68.90 C641.10 69.32 641.90 69.12 643.00 68.30 C644.10 67.48 645.43 65.55 646.60 64.00 C647.77 62.45 648.78 60.92 650.00 59.00 C651.22 57.08 652.45 55.08 653.90 52.50 C655.35 49.92 657.30 46.08 658.70 43.50 C660.10 40.92 661.20 38.92 662.30 37.00 C663.40 35.08 664.50 33.43 665.30 32.00 C666.10 30.57 666.80 29.00 667.10 28.40" fill="none" stroke="#1a1ab4" stroke-width="2.00" stroke-linejoin="round" stroke-linecap="round"/>
<path d="M385.80 107.10 C386.25 106.05 387.45 102.75 388.50 100.80 C389.55 98.85 390.90 96.38 392.10 95.40 C393.30 94.42 394.48 95.13 395.70 94.90 C396.92 94.67 398.18 94.38 399.40 94.00 C400.62 93.62 401.80 92.85 403.00 92.60 C404.20 92.35 405.48 92.50 406.60 92.50 C407.72 92.50 408.87 92.35 409.70 92.60 C410.53 92.85 410.92 93.23 411.60 94.00 C412.28 94.77 412.98 95.92 413.80 97.20 C414.62 98.48 415.60 100.20 416.50 101.70 C417.40 103.20 418.28 104.48 419.20 106.20 C420.12 107.92 421.20 110.33 422.00 112.00 C422.80 113.67 423.04 114.82 424.00 116.25 C424.96 117.68 426.50 119.46 427.75 120.60 C429.00 121.74 430.04 122.37 431.50 123.10 C432.96 123.83 434.83 124.52 436.50 125.00 C438.17 125.48 440.04 125.58 441.50 126.00 C442.96 126.42 444.32 127.08 445.25 127.50 C446.18 127.92 446.48 128.50 447.10 128.50 C447.73 128.50 448.48 128.71 449.00 127.50 C449.52 126.29 449.73 123.75 450.25 121.25 C450.77 118.75 451.48 116.04 452.10 112.50 C452.73 108.96 453.35 104.25 454.00 100.00 C454.65 95.75 455.42 90.25 456.00 87.00 C456.58 83.75 457.00 82.33 457.50 80.50 C458.00 78.67 458.33 76.87 459.00 76.00 C459.67 75.13 460.46 75.25 461.50 75.30 C462.54 75.35 463.83 76.03 465.25 76.30 C466.67 76.57 468.38 76.49 470.00 76.90 C471.62 77.31 473.54 78.40 475.00 78.75 C476.46 79.10 477.50 78.58 478.75 79.00 C480.00 79.42 481.04 80.75 482.50 81.25 C483.96 81.75 485.83 81.79 487.50 82.00 C489.17 82.21 490.83 82.28 492.50 82.50 C494.17 82.72 495.83 83.13 497.50 83.30 C499.17 83.47 500.83 83.38 502.50 83.50 C504.17 83.62 505.83 83.83 507.50 84.00 C509.17 84.17 511.25 84.43 512.50 84.50 C513.75 84.57 513.85 84.73 515.00 84.40 C516.15 84.07 518.15 83.23 519.40 82.50 C520.65 81.77 521.61 80.73 522.50 80.00 C523.39 79.27 524.02 78.00 524.75 78.10 C525.48 78.20 526.02 79.77 526.90 80.60 C527.77 81.43 528.65 82.27 530.00 83.10 C531.35 83.93 533.33 84.97 535.00 85.60 C536.67 86.23 538.33 87.00 540.00 86.90 C541.67 86.80 543.48 85.80 545.00 85.00 C546.52 84.20 547.75 82.70 549.10 82.10 C550.45 81.50 551.75 81.28 553.10 81.40 C554.45 81.52 555.83 82.12 557.20 82.80 C558.57 83.48 559.95 84.48 561.30 85.50 C562.65 86.52 563.95 87.83 565.30 88.90 C566.65 89.97 568.03 91.27 569.40 91.90 C570.77 92.53 572.15 92.75 573.50 92.70 C574.85 92.65 576.15 92.35 577.50 91.60 C578.85 90.85 580.23 89.45 581.60 88.20 C582.97 86.95 584.35 85.35 585.70 84.10 C587.05 82.85 588.28 81.73 589.70 80.70 C591.12 79.67 592.75 78.57 594.20 77.90 C595.65 77.23 596.98 76.70 598.40 76.70 C599.82 76.70 601.28 77.20 602.70 77.90 C604.12 78.60 605.50 79.70 606.90 80.90 C608.30 82.10 609.90 83.62 611.10 85.10 C612.30 86.58 613.00 88.42 614.10 89.80 C615.20 91.18 616.50 92.30 617.70 93.40 C618.90 94.50 620.10 95.48 621.30 96.40 C622.50 97.32 624.00 98.80 624.90 98.90 C625.80 99.00 626.18 98.12 626.70 97.00 C627.22 95.88 627.58 93.80 628.00 92.20 C628.42 90.60 628.80 88.65 629.20 87.40 C629.60 86.15 629.90 85.02 630.40 84.70 C630.90 84.38 631.30 85.12 632.20 85.50 C633.10 85.88 634.60 86.37 635.80 87.00 C637.00 87.63 638.20 89.30 639.40 89.30 C640.60 89.30 641.80 88.30 643.00 87.00 C644.20 85.70 645.20 83.82 646.60 81.50 C648.00 79.18 649.78 75.72 651.40 73.10 C653.02 70.48 654.88 67.98 656.30 65.80 C657.72 63.62 658.70 61.62 659.90 60.00 C661.10 58.38 662.30 57.45 663.50 56.10 C664.70 54.75 666.50 52.60 667.10 51.90" fill="none" stroke="#1a7e1a" stroke-width="2.00" stroke-linejoin="round" stroke-linecap="round"/>
</g>
<rect x="588.50" y="126.50" width="73.30" height="68.30" fill="#fff" stroke="#8a8a8a" stroke-width="1"/>
<line x1="592.30" y1="136.30" x2="619.80" y2="136.30" stroke="#0a0a0a" stroke-width="2.1"/>
<text transform="translate(622.40 141.00) scale(0.885 1)" font-size="12.90" text-anchor="start">10 min</text>
<line x1="592.30" y1="153.23" x2="619.80" y2="153.23" stroke="#d81c1c" stroke-width="2.1"/>
<text transform="translate(622.40 157.93) scale(0.885 1)" font-size="12.90" text-anchor="start">30 min</text>
<line x1="592.30" y1="170.16" x2="619.80" y2="170.16" stroke="#1a1ab4" stroke-width="2.1"/>
<text transform="translate(622.40 174.86) scale(0.885 1)" font-size="12.90" text-anchor="start">60 min</text>
<line x1="592.30" y1="187.09" x2="619.80" y2="187.09" stroke="#1a7e1a" stroke-width="2.1"/>
<text transform="translate(622.40 191.79) scale(0.885 1)" font-size="12.90" text-anchor="start">90 min</text>
<text transform="translate(524.40 11.80) scale(0.930 1)" font-size="14.60" text-anchor="middle">(b)</text>
<text transform="translate(526.30 326.40) scale(0.885 1)" font-size="16.90" text-anchor="middle">Wavelength (nm)</text>
<text transform="translate(356.6 163.2) scale(0.885 1) rotate(-90)" font-size="17" text-anchor="middle">R (%)</text>
</g>
</svg>
</body></html>
